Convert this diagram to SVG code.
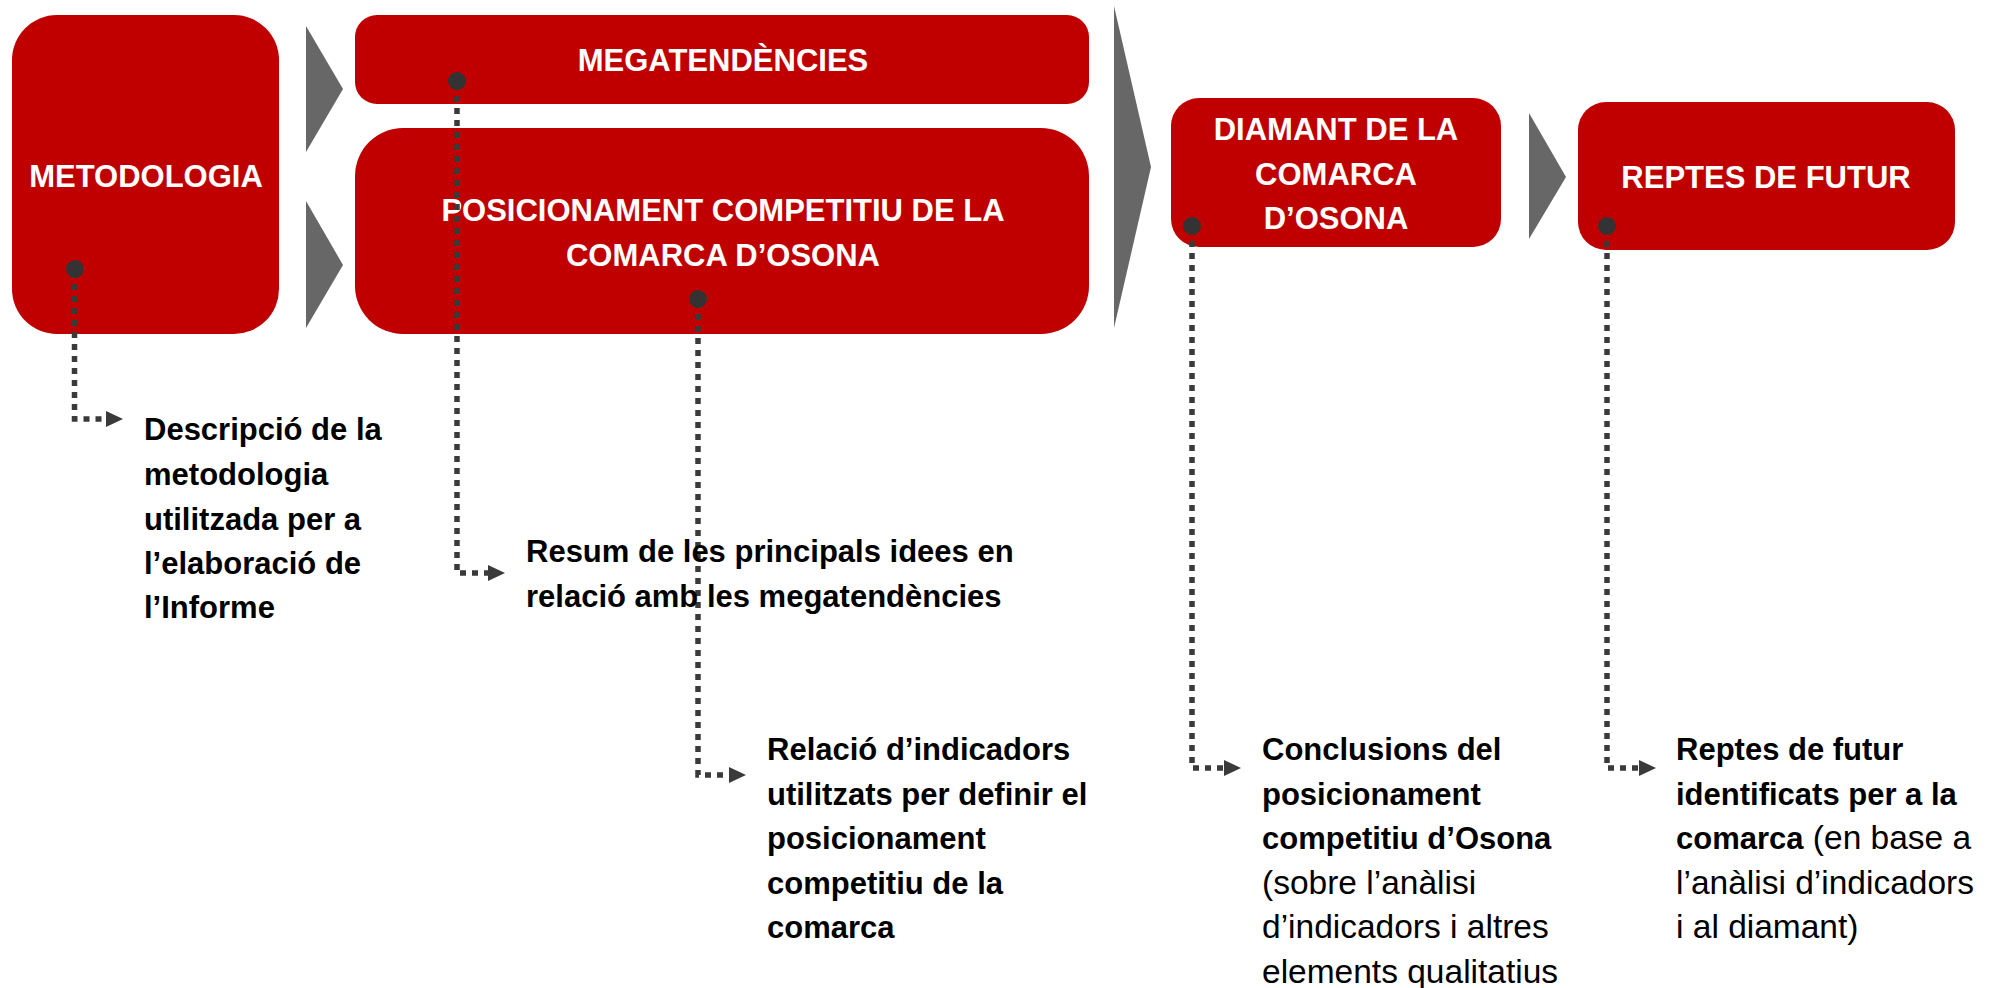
<svg xmlns="http://www.w3.org/2000/svg" width="1994" height="988" viewBox="0 0 1994 988">
<style>
.box{fill:#C00000}
.chev{fill:#676767}
.bt{font-family:"Liberation Sans",Arial,sans-serif;font-weight:bold;font-size:31px;fill:#FFFFFF;text-anchor:middle}
.dt{font-family:"Liberation Sans",Arial,sans-serif;font-weight:bold;font-size:31px;fill:#000000}
.rg{font-weight:normal;font-size:33.5px}
.conn{fill:none;stroke:#3a3a3a;stroke-width:5.5;stroke-dasharray:6 6}
.dot{fill:#333333}
</style>
<defs>
<marker id="arr" viewBox="0 0 17 16" refX="0" refY="8" markerUnits="userSpaceOnUse" markerWidth="17" markerHeight="16" orient="auto">
<path d="M0,0 L17,8 L0,16 z" fill="#3a3a3a"/>
</marker>
</defs>
<rect width="1994" height="988" fill="#FFFFFF"/>
<g id="chevrons">
<polygon class="chev" points="306,26 343,89 306,152"/>
<polygon class="chev" points="306,201 343,265 306,328"/>
<polygon class="chev" points="1114,6 1151,167 1114,328"/>
<polygon class="chev" points="1529,113 1566,177 1529,239"/>
</g>
<g id="metodologia">
<rect class="box" x="12" y="15" width="267" height="319" rx="45"/>
<text class="bt" x="146" y="187">METODOLOGIA</text>
</g>
<g id="megatendencies">
<rect class="box" x="355" y="15" width="734" height="89" rx="22"/>
<text class="bt" x="723" y="71">MEGATENDÈNCIES</text>
</g>
<g id="posicionament">
<rect class="box" x="355" y="128" width="734" height="206" rx="48"/>
<text class="bt" x="723" y="221">POSICIONAMENT COMPETITIU DE LA</text>
<text class="bt" x="723" y="266">COMARCA D’OSONA</text>
</g>
<g id="diamant">
<rect class="box" x="1171" y="98" width="330" height="149" rx="28"/>
<text class="bt" x="1336" y="140">DIAMANT DE LA</text>
<text class="bt" x="1336" y="185">COMARCA</text>
<text class="bt" x="1336" y="229">D’OSONA</text>
</g>
<g id="reptes">
<rect class="box" x="1578" y="102" width="377" height="148" rx="28"/>
<text class="bt" x="1766" y="188">REPTES DE FUTUR</text>
</g>
<g id="connectors">
<path class="conn" d="M74.5,272 V419 H106" marker-end="url(#arr)"/>
<path class="conn" d="M457,84 V573 H488" marker-end="url(#arr)"/>
<path class="conn" d="M698,302 V775 H729" marker-end="url(#arr)"/>
<path class="conn" d="M1192,229 V768 H1224" marker-end="url(#arr)"/>
<path class="conn" d="M1607,229 V768 H1639" marker-end="url(#arr)"/>
<circle class="dot" cx="75" cy="269" r="9"/>
<circle class="dot" cx="457" cy="81" r="9"/>
<circle class="dot" cx="698" cy="299" r="9"/>
<circle class="dot" cx="1192" cy="226" r="9"/>
<circle class="dot" cx="1607" cy="226" r="9"/>
</g>
<g id="desc-metodologia">
<text class="dt" x="144" y="440">Descripció de la</text>
<text class="dt" x="144" y="485">metodologia</text>
<text class="dt" x="144" y="530">utilitzada per a</text>
<text class="dt" x="144" y="574">l’elaboració de</text>
<text class="dt" x="144" y="618">l’Informe</text>
</g>
<g id="desc-megatendencies">
<text class="dt" x="526" y="562">Resum de les principals idees en</text>
<text class="dt" x="526" y="607">relació amb les megatendències</text>
</g>
<g id="desc-posicionament">
<text class="dt" x="767" y="760">Relació d’indicadors</text>
<text class="dt" x="767" y="805">utilitzats per definir el</text>
<text class="dt" x="767" y="849">posicionament</text>
<text class="dt" x="767" y="894">competitiu de la</text>
<text class="dt" x="767" y="938">comarca</text>
</g>
<g id="desc-diamant">
<text class="dt" x="1262" y="760">Conclusions del</text>
<text class="dt" x="1262" y="805">posicionament</text>
<text class="dt" x="1262" y="849">competitiu d’Osona</text>
<text class="dt rg" x="1262" y="894">(sobre l’anàlisi</text>
<text class="dt rg" x="1262" y="938">d’indicadors i altres</text>
<text class="dt rg" x="1262" y="983">elements qualitatius</text>
</g>
<g id="desc-reptes">
<text class="dt" x="1676" y="760">Reptes de futur</text>
<text class="dt" x="1676" y="805">identificats per a la</text>
<text class="dt" x="1676" y="849">comarca<tspan class="rg"> (en base a</tspan></text>
<text class="dt rg" x="1676" y="894">l’anàlisi d’indicadors</text>
<text class="dt rg" x="1676" y="938">i al diamant)</text>
</g>
</svg>
